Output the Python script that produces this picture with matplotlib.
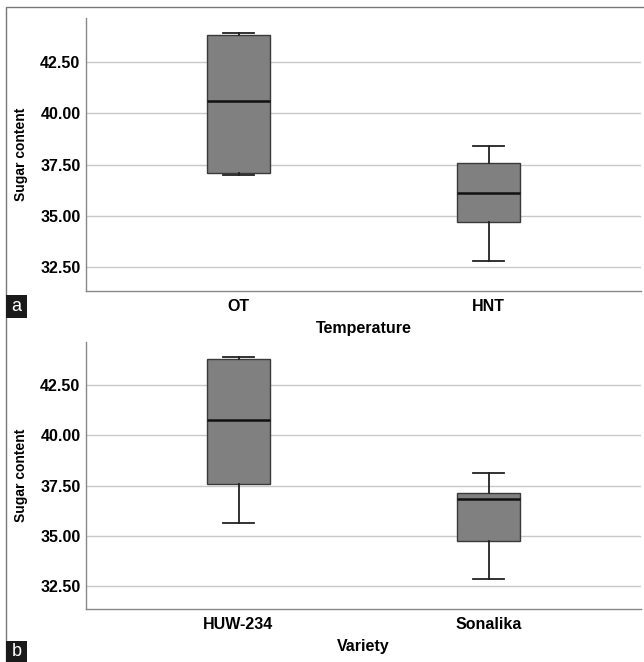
import matplotlib.pyplot as plt
from matplotlib.patches import Rectangle

plt.rcParams['font.family'] = ['Liberation Sans', 'DejaVu Sans']

# panel a - Temperature
a_labels = ['OT', 'HNT']
a_whislo = [37.01, 32.82]
a_q1 = [37.11, 34.71]
a_med = [40.61, 36.12]
a_q3 = [43.82, 37.60]
a_whishi = [43.91, 38.41]

# panel b - Variety
b_labels = ['HUW-234', 'Sonalika']
b_whislo = [35.64, 32.85]
b_q1 = [37.60, 34.73]
b_med = [40.77, 36.82]
b_q3 = [43.81, 37.12]
b_whishi = [43.91, 38.12]

yticks = [32.5, 35.0, 37.5, 40.0, 42.5]

W, H = 644, 662
fig = plt.figure(figsize=(W / 100, H / 100), dpi=100)


def px_axes(x0, y0, x1, y1):
    return fig.add_axes([x0 / W, 1 - y1 / H, (x1 - x0) / W, (y1 - y0) / H])


def draw_panel(ax, labels, lo, q1, med, q3, hi, xlabel):
    stats = []
    for i in range(len(labels)):
        stats.append(dict(label=labels[i], whislo=lo[i], q1=q1[i], med=med[i],
                          q3=q3[i], whishi=hi[i], fliers=[]))
    ax.bxp(stats, positions=[1, 2], widths=0.25, patch_artist=True,
           showfliers=False,
           boxprops=dict(facecolor='#808080', edgecolor='#3a3a3a', linewidth=1.0),
           medianprops=dict(color='#111111', linewidth=1.8),
           whiskerprops=dict(color='#222222', linewidth=1.3),
           capprops=dict(color='#222222', linewidth=1.3),
           capwidths=0.125, zorder=3)
    ax.set_xlim(0.39, 2.61)
    ax.set_ylim(31.35, 44.65)
    ax.set_yticks(yticks)
    ax.set_yticklabels(['%.2f' % v for v in yticks])
    ax.yaxis.grid(True, color='#c8c8c8', linewidth=1.0, zorder=0)
    ax.set_axisbelow(True)
    for s in ['top', 'right']:
        ax.spines[s].set_visible(False)
    for s in ['left', 'bottom']:
        ax.spines[s].set_color('#888888')
        ax.spines[s].set_linewidth(1.0)
    ax.tick_params(length=0, labelsize=11.5, pad=4)
    ax.tick_params(axis='x', pad=6)
    for t in ax.get_xticklabels() + ax.get_yticklabels():
        t.set_fontweight('bold')
    ax.set_ylabel('Sugar content', fontsize=10, fontweight='bold', labelpad=9)
    ax.set_xlabel(xlabel, fontsize=11.5, fontweight='bold', labelpad=5)


ax1 = px_axes(86, 18, 641, 291)
draw_panel(ax1, a_labels, a_whislo, a_q1, a_med, a_q3, a_whishi, 'Temperature')
ax2 = px_axes(86, 342, 641, 609)
draw_panel(ax2, b_labels, b_whislo, b_q1, b_med, b_q3, b_whishi, 'Variety')

# outer frame
fig.patches.append(Rectangle((6 / W, -0.1), 1.2, 1 - 7 / H + 0.1,
                             transform=fig.transFigure, fill=False,
                             edgecolor='#777777', linewidth=1.0))

# panel letters
for letter, y0, y1 in [('a', 295, 318), ('b', 641, 662)]:
    fig.patches.append(Rectangle((6 / W, 1 - y1 / H), 21 / W, (y1 - y0) / H,
                                 transform=fig.transFigure, facecolor='#1a1a1a',
                                 edgecolor='none'))
    fig.text(16.5 / W, 1 - (y0 + y1) / 2 / H, letter, color='white',
             fontsize=13, ha='center', va='center')

fig.savefig('out.png', dpi=100)
